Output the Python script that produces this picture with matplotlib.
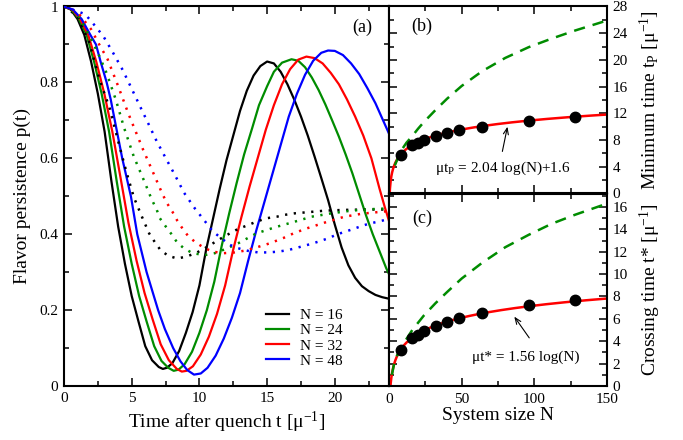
import numpy as np
import matplotlib
matplotlib.use("Agg")
import matplotlib.pyplot as plt
from matplotlib.ticker import MultipleLocator

plt.rcParams["font.family"] = ["Liberation Serif", "DejaVu Serif"]
plt.rcParams["mathtext.default"] = "regular"

# (a) flavor persistence p(t), solid curves
t_16 = [0, 0.5, 1.0, 1.5, 2.0, 2.5, 3.0, 3.5, 4.0, 4.5, 5.0, 5.5, 6.0, 6.5, 7.0, 7.3, 7.6, 8.0, 8.5, 9.0,
        9.5, 10.0, 10.5, 11.0, 11.5, 12.0, 12.5, 13.0, 13.5, 14.0, 14.5, 15.0, 15.5, 16.0, 16.5, 17.0,
        17.5, 18.0, 18.5, 19.0, 19.5, 20.0, 20.5, 21.0, 21.5, 22.0, 22.5, 23.0, 23.5, 24.0]
p_16 = [1.0, 0.992, 0.967, 0.925, 0.855, 0.77, 0.67, 0.54, 0.42, 0.322, 0.237, 0.17, 0.105, 0.068, 0.05,
        0.045, 0.048, 0.06, 0.092, 0.14, 0.195, 0.265, 0.36, 0.44, 0.52, 0.595, 0.66, 0.725, 0.778, 0.818,
        0.843, 0.855, 0.85, 0.828, 0.795, 0.755, 0.71, 0.66, 0.605, 0.548, 0.49, 0.425, 0.365, 0.318,
        0.285, 0.263, 0.25, 0.24, 0.234, 0.23]

t_24 = [0, 0.55, 1.1, 1.67, 2.22, 2.78, 3.33, 3.89, 4.44, 5.0, 5.55, 6.1, 6.66, 7.2, 7.7, 8.1, 8.45, 8.9,
        9.45, 10.0, 10.55, 11.1, 11.65, 12.2, 12.75, 13.3, 13.9, 14.4, 15.0, 15.5, 16.1, 16.8, 17.3, 17.8,
        18.3, 18.8, 19.3, 19.8, 20.3, 20.8, 21.3, 21.8, 22.3, 22.8, 23.3, 23.8, 24.0]
p_24 = [1.0, 0.992, 0.967, 0.925, 0.855, 0.77, 0.67, 0.54, 0.42, 0.322, 0.237, 0.17, 0.105, 0.066, 0.048,
        0.040, 0.043, 0.057, 0.09, 0.14, 0.2, 0.275, 0.37, 0.455, 0.535, 0.61, 0.68, 0.74, 0.79, 0.828,
        0.852, 0.861, 0.857, 0.84, 0.813, 0.78, 0.742, 0.70, 0.657, 0.61, 0.56, 0.505, 0.45, 0.40, 0.355,
        0.31, 0.295]

t_32 = [0, 0.6, 1.19, 1.79, 2.38, 2.98, 3.57, 4.17, 4.76, 5.36, 5.95, 6.55, 7.14, 7.74, 8.33, 8.7, 9.05,
        9.52, 10.1, 10.7, 11.3, 11.9, 12.5, 13.1, 13.7, 14.3, 14.9, 15.5, 16.1, 16.7, 17.3, 17.9, 18.5,
        19.1, 19.7, 20.3, 20.9, 21.5, 22.1, 22.7, 23.3, 23.7, 24.0]
p_32 = [1.0, 0.992, 0.967, 0.925, 0.855, 0.77, 0.67, 0.55, 0.43, 0.33, 0.245, 0.175, 0.11, 0.068, 0.045,
        0.038, 0.04, 0.052, 0.083, 0.13, 0.19, 0.265, 0.36, 0.445, 0.525, 0.60, 0.675, 0.74, 0.795, 0.835,
        0.86, 0.868, 0.864, 0.85, 0.825, 0.795, 0.755, 0.71, 0.66, 0.60, 0.52, 0.47, 0.435]

t_48 = [0, 0.65, 1.3, 1.95, 2.36, 2.7, 3.15, 3.45, 3.75, 4.3, 4.94, 5.41, 6.1, 6.95, 7.45, 8.06, 8.6, 9.1,
        9.6, 10.1, 10.6, 11.2, 11.8, 12.4, 13.0, 13.6, 14.2, 14.8, 15.4, 16.0, 16.6, 17.2, 17.8, 18.4, 19.0,
        19.5, 20.0, 20.6, 21.2, 21.8, 22.4, 23.0, 23.5, 24.0]
p_48 = [1.0, 0.992, 0.967, 0.925, 0.90, 0.855, 0.80, 0.755, 0.70, 0.60, 0.50, 0.40, 0.30, 0.20, 0.15, 0.10,
        0.065, 0.042, 0.03, 0.033, 0.048, 0.08, 0.125, 0.18, 0.245, 0.33, 0.41, 0.485, 0.56, 0.635, 0.71,
        0.77, 0.82, 0.857, 0.878, 0.884, 0.883, 0.872, 0.85, 0.822, 0.785, 0.745, 0.705, 0.665]

# (a) dotted curves
td_16 = [0, 1.0, 1.87, 2.6, 3.39, 4.0, 4.6, 5.16, 5.73, 6.29, 6.71, 7.13, 7.7, 8.36, 9.05, 9.78, 10.4, 11.0,
         11.6, 12.24, 12.86, 13.6, 14.2, 14.95, 15.7, 16.3, 17.04, 18.0, 19.25, 20.7, 22.2, 24.0]
pd_16 = [1.0, 0.975, 0.905, 0.81, 0.73, 0.645, 0.565, 0.497, 0.448, 0.402, 0.379, 0.358, 0.343, 0.336,
         0.341, 0.351, 0.363, 0.376, 0.389, 0.402, 0.414, 0.424, 0.433, 0.442, 0.446, 0.451, 0.455, 0.458,
         0.462, 0.464, 0.465, 0.465]

td_24 = [0, 1.0, 2.0, 2.6, 3.15, 3.83, 4.45, 5.16, 5.97, 6.47, 6.83, 7.08, 7.52, 7.94, 8.36, 8.85, 9.49,
         10.4, 11.14, 12.0, 12.86, 14.2, 15.56, 17.04, 18.27, 19.74, 21.2, 22.7, 24.0]
pd_24 = [1.0, 0.98, 0.915, 0.87, 0.824, 0.754, 0.679, 0.604, 0.536, 0.492, 0.466, 0.442, 0.42, 0.40, 0.378,
         0.363, 0.35, 0.345, 0.35, 0.362, 0.376, 0.402, 0.418, 0.433, 0.446, 0.455, 0.462, 0.466, 0.468]

td_32 = [0, 1.0, 2.0, 2.6, 3.22, 4.0, 4.75, 5.85, 6.71, 7.28, 7.62, 8.01, 8.36, 8.75, 9.17, 9.73, 10.4,
         11.0, 11.8, 12.6, 13.4, 14.2, 15.2, 16.2, 17.0, 17.9, 19.2, 20.7, 22.0, 23.4, 24.0]
pd_32 = [1.0, 0.985, 0.94, 0.90, 0.861, 0.79, 0.718, 0.622, 0.552, 0.505, 0.481, 0.459, 0.436, 0.415, 0.395,
         0.378, 0.363, 0.354, 0.35, 0.352, 0.357, 0.365, 0.376, 0.39, 0.403, 0.415, 0.43, 0.446, 0.454,
         0.459, 0.461]

td_48 = [0, 1.55, 2.04, 2.9, 3.64, 4.33, 4.99, 5.6, 6.22, 6.83, 7.52, 8.19, 8.87, 9.66, 10.52, 11.0, 11.63,
         12.24, 12.86, 13.6, 14.33, 15.07, 15.8, 16.54, 17.28, 18.0, 18.75, 19.5, 20.2, 20.97, 21.7, 22.44,
         23.18, 24.0]
pd_48 = [1.0, 0.98, 0.96, 0.922, 0.877, 0.833, 0.784, 0.738, 0.692, 0.646, 0.60, 0.556, 0.509, 0.468, 0.429,
         0.407, 0.389, 0.372, 0.363, 0.356, 0.352, 0.352, 0.354, 0.358, 0.365, 0.372, 0.38, 0.389, 0.40,
         0.409, 0.418, 0.427, 0.433, 0.44]

# (b), (c) data vs system size
sizes = [8, 16, 20, 24, 32, 40, 48, 64, 96, 128]
t_min = [5.8, 7.2, 7.6, 8.0, 8.6, 9.1, 9.45, 10.0, 10.85, 11.4]
t_cross = [3.2, 4.3, 4.6, 4.95, 5.35, 5.75, 6.05, 6.55, 7.25, 7.7]

n_dash_b = [4, 8, 12, 16, 20, 24, 32, 40, 50, 64, 80, 96, 112, 128, 150]
t_dash_b = [4.2, 6.3, 7.6, 8.6, 9.7, 10.7, 12.5, 14.2, 16.1, 18.3, 20.3, 21.9, 23.2, 24.4, 25.9]
n_dash_c = [2, 4, 8, 16, 24, 32, 40, 50, 64, 80, 96, 112, 128, 150]
t_dash_c = [1.0, 2.3, 3.4, 5.0, 6.3, 7.4, 8.4, 9.6, 11.0, 12.4, 13.5, 14.5, 15.3, 16.3]

# fitted laws quoted in the panels
fit_b = (2.04, 1.6)
fit_c = (1.56, 0.0)

colors = ["black", "#008c00", "red", "blue"]
labels = ["N = 16", "N = 24", "N = 32", "N = 48"]


def style_axes(ax):
    for s in ax.spines.values():
        s.set_linewidth(1.5)
    ax.tick_params(which="both", direction="in", top=True, right=True, width=1.1, labelsize=11, pad=4)
    ax.tick_params(which="major", length=6)
    ax.tick_params(which="minor", length=3.3)


def main():
    fig = plt.figure(figsize=(6.83, 4.4), dpi=100)
    W, H = 683.0, 440.0
    ax_a = fig.add_axes([64 / W, 1 - 386 / H, 325 / W, 379.5 / H])
    ax_b = fig.add_axes([389 / W, 1 - 193.5 / H, 218 / W, 187 / H])
    ax_c = fig.add_axes([389 / W, 1 - 386 / H, 218 / W, 192.5 / H])

    # panel (a)
    solid = [(t_16, p_16), (t_24, p_24), (t_32, p_32), (t_48, p_48)]
    dotted = [(td_16, pd_16), (td_24, pd_24), (td_32, pd_32), (td_48, pd_48)]
    for (t, p), c, lab in zip(solid, colors, labels):
        ax_a.plot(t, p, color=c, lw=1.6, label=lab, zorder=2, solid_joinstyle="round")
    for (t, p), c in zip(dotted, colors):
        ax_a.plot(t, p, color=c, lw=1.8, ls=(0, (0.9, 2.6)), zorder=3)

    ax_a.set_xlim(0, 24)
    ax_a.set_ylim(0, 1)
    ax_a.xaxis.set_major_locator(MultipleLocator(5))
    ax_a.xaxis.set_minor_locator(MultipleLocator(2.5))
    ax_a.yaxis.set_major_locator(MultipleLocator(0.2))
    ax_a.yaxis.set_minor_locator(MultipleLocator(0.1))
    ax_a.set_yticks([0, 0.2, 0.4, 0.6, 0.8, 1.0], ["0", "0.2", "0.4", "0.6", "0.8", "1"])
    style_axes(ax_a)
    ax_a.set_xlabel("Time after quench t [μ$^{-1}$]", fontsize=14, labelpad=4)
    ax_a.set_ylabel("Flavor persistence p(t)", fontsize=14, labelpad=6)
    ax_a.text(22.05, 0.946, "(a)", fontsize=13, ha="center", va="center")
    ax_a.legend(loc="lower left", bbox_to_anchor=(0.62, 0.048), frameon=False, fontsize=11,
                handlelength=1.55, handletextpad=0.7, labelspacing=0.1, borderpad=0, borderaxespad=0)

    # panels (b) and (c)
    n_fit = np.linspace(0.4, 150, 600)
    for ax, y, nd, yd, fit in [(ax_b, t_min, n_dash_b, t_dash_b, fit_b),
                               (ax_c, t_cross, n_dash_c, t_dash_c, fit_c)]:
        y_fit = fit[0] * np.log(n_fit) + fit[1]
        ax.plot(n_fit, y_fit, color="red", lw=1.8, zorder=2)
        ax.plot(nd, yd, color="#008c00", lw=1.8, ls=(0, (4.5, 3.2)), zorder=2)
        ax.plot(sizes, y, "o", color="black", ms=7.5, zorder=3)
        ax.set_xlim(0, 150)
        ax.xaxis.set_major_locator(MultipleLocator(50))
        ax.xaxis.set_minor_locator(MultipleLocator(25))
        style_axes(ax)
        ax.yaxis.tick_right()
        ax.yaxis.set_label_position("right")
        ax.tick_params(which="both", left=True, right=True, labelleft=False, labelright=True, pad=4)

    arrow = dict(arrowstyle="->,head_length=0.45,head_width=0.18", lw=0.8, color="black",
                 shrinkA=0, shrinkB=0)

    ax_b.set_ylim(0, 28)
    ax_b.yaxis.set_major_locator(MultipleLocator(4))
    ax_b.yaxis.set_minor_locator(MultipleLocator(2))
    ax_b.tick_params(labelbottom=False)
    ax_b.set_ylabel("Minimum time t$_P$ [μ$^{-1}$]", fontsize=14, labelpad=7)
    ax_b.text(22.8, 25.0, "(b)", fontsize=13, ha="center", va="center")
    ax_b.text(78, 3.75, "μt$_P$ = 2.04 log(N)+1.6", fontsize=11, ha="center", va="center")
    ax_b.annotate("", xy=(81.5, 10.0), xytext=(78, 6.3), arrowprops=arrow)

    ax_c.set_ylim(0, 17.2)
    ax_c.yaxis.set_major_locator(MultipleLocator(2))
    ax_c.yaxis.set_minor_locator(MultipleLocator(1))
    ax_c.tick_params(axis="x", pad=5)
    ax_c.set_xlabel("System size N", fontsize=14, labelpad=1)
    ax_c.set_ylabel("Crossing time t* [μ$^{-1}$]", fontsize=14, labelpad=7)
    ax_c.text(22.8, 15.0, "(c)", fontsize=13, ha="center", va="center")
    ax_c.text(94.2, 2.54, "μt* = 1.56 log(N)", fontsize=11, ha="center", va="center")
    ax_c.annotate("", xy=(86.2, 6.2), xytext=(96.5, 4.3), arrowprops=arrow)

    fig.savefig("out.png", dpi=100)


if __name__ == "__main__":
    main()
